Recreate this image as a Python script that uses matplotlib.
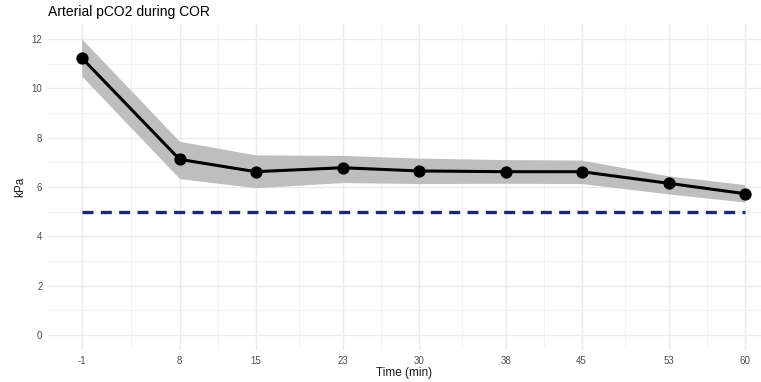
import matplotlib
matplotlib.use("Agg")
import matplotlib.pyplot as plt
import numpy as np

plt.rcParams['font.family'] = ['Liberation Sans', 'DejaVu Sans']

# Data
time_min = [-1, 8, 15, 23, 30, 38, 45, 53, 60]
pco2_mean = [11.23, 7.12, 6.62, 6.78, 6.65, 6.62, 6.62, 6.15, 5.73]
pco2_upper = [12.0, 7.85, 7.3, 7.28, 7.17, 7.11, 7.09, 6.45, 6.1]
pco2_lower = [10.49, 6.34, 5.97, 6.18, 6.14, 6.15, 6.14, 5.72, 5.39]
reference_level = 5
x_ticks = [-1, 8, 15, 23, 30, 38, 45, 53, 60]
y_ticks = [0, 2, 4, 6, 8, 10, 12]

fig = plt.figure(figsize=(7.61, 3.82), dpi=100)
W, H = 761, 382
left, right, top, bottom = 48, 761, 24, 350
ax = fig.add_axes([left / W, 1 - bottom / H, (right - left) / W, (bottom - top) / H])

ax.set_xlim(-4.1, 61.5)
ax.set_ylim(-0.6, 12.6)

ax.fill_between(time_min, pco2_lower, pco2_upper, color='#BEBEBE', linewidth=0, zorder=2)
ax.plot([time_min[0], time_min[-1]], [reference_level, reference_level], color='#1B2A6E',
        linewidth=2.4, linestyle=(0, (3.3, 2.2)), zorder=3)
ax.plot(time_min, pco2_mean, color='black', linewidth=2.2, zorder=4)
ax.scatter(time_min, pco2_mean, s=78, color='black', zorder=5, linewidths=0)

ax.set_xticks(x_ticks)
ax.set_xticklabels([str(t) for t in x_ticks])
ax.set_yticks(y_ticks)
minor_x = [(a + b) / 2 for a, b in zip(x_ticks[:-1], x_ticks[1:])]
ax.set_xticks(minor_x, minor=True)
ax.set_yticks([1, 3, 5, 7, 9, 11], minor=True)

ax.grid(True, which='major', color='#EBEBEB', linewidth=1.0, zorder=0)
ax.grid(True, which='minor', color='#F2F2F2', linewidth=0.8, zorder=0)
ax.set_axisbelow(True)
for s in ax.spines.values():
    s.set_visible(False)
ax.tick_params(which='both', length=0)
ax.tick_params(axis='both', labelsize=7, labelcolor='#4D4D4D', pad=4)

ax.set_xlabel('Time (min)', fontsize=8.5, color='#1A1A1A', labelpad=1)
ax.set_ylabel('kPa', fontsize=8.5, color='#1A1A1A', labelpad=4)

fig.text(48 / W, 1 - 12 / H, 'Arterial pCO2 during COR', fontsize=10, color='black',
         ha='left', va='center')

fig.savefig('out.png', dpi=100)
